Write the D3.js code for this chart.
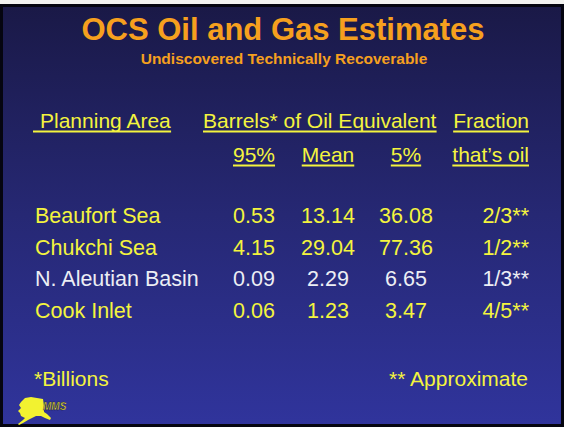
<!DOCTYPE html>
<html>
<head>
<meta charset="utf-8">
<script src="https://cdn.jsdelivr.net/npm/d3@7"></script>
<style>
  html, body { margin: 0; padding: 0; background: #f2f2f0; }
  svg { display: block; }
  text { font-family: "Liberation Sans", Arial, sans-serif; }
</style>
</head>
<body>
<div id="chart"></div>
<script>
// table contents
var areas = ["Beaufort Sea", "Chukchi Sea", "N. Aleutian Basin", "Cook Inlet"];
var p95 = [0.53, 4.15, 0.09, 0.06];
var mean = [13.14, 29.04, 2.29, 1.23];
var p5 = [36.08, 77.36, 6.65, 3.47];
var oilFraction = ["2/3", "1/2", "1/3", "4/5"];
var colHeaders = ["95%", "Mean", "5%"];

var width = 564,
    height = 427;

var yellow = "#f4f43e",
    orange = "#f6a01e",
    white = "#eceef4";

var svg = d3.select("#chart").append("svg")
    .attr("width", width)
    .attr("height", height);

var grad = svg.append("defs").append("linearGradient")
    .attr("id", "bg").attr("x1", 0).attr("y1", 0).attr("x2", 0).attr("y2", 1);
grad.append("stop").attr("offset", "0%").attr("stop-color", "#1a1947");
grad.append("stop").attr("offset", "50%").attr("stop-color", "#262874");
grad.append("stop").attr("offset", "100%").attr("stop-color", "#30349c");

// frame: light strip on top, dark edges
svg.append("rect").attr("x", 0).attr("y", 4).attr("width", width).attr("height", height - 4)
    .attr("fill", "#050510");
svg.append("rect").attr("x", 3).attr("y", 7).attr("width", width - 6).attr("height", height - 10)
    .attr("fill", "url(#bg)");

// title
svg.append("text")
    .attr("x", 283).attr("y", 40)
    .attr("text-anchor", "middle")
    .attr("font-size", 31).attr("font-weight", "bold")
    .attr("fill", orange)
    .text("OCS Oil and Gas Estimates");

svg.append("text")
    .attr("x", 284).attr("y", 64)
    .attr("text-anchor", "middle")
    .attr("font-size", 15.5).attr("font-weight", "bold")
    .attr("fill", orange)
    .text("Undiscovered Technically Recoverable");

// columns
var x = d3.scaleOrdinal()
    .domain(["area", "95%", "Mean", "5%", "frac"])
    .range([35, 254, 328, 406, 529]);

var y = d3.scalePoint()
    .domain(areas)
    .range([223, 317.5]);

function underlined(sel) {
    sel.each(function() {
        var b = this.getBBox();
        var pad = this.__pad || 0;
        d3.select(this.parentNode).append("line")
            .attr("x1", b.x - pad).attr("x2", b.x + b.width)
            .attr("y1", +this.getAttribute("y") + 3.5)
            .attr("y2", +this.getAttribute("y") + 3.5)
            .attr("stroke", yellow).attr("stroke-width", 2);
    });
}

var head = svg.append("g").attr("font-size", 21).attr("fill", yellow);

head.append("text").attr("x", 40).attr("y", 128)
    .text("Planning Area")
    .each(function() { this.__pad = 7; })
    .call(underlined);

head.append("text").attr("x", 203).attr("y", 128)
    .text("Barrels* of Oil Equivalent")
    .call(underlined);

head.append("text").attr("x", x("frac")).attr("y", 128)
    .attr("text-anchor", "end")
    .text("Fraction")
    .call(underlined);

head.selectAll(".colhead").data(colHeaders).enter().append("text")
    .attr("class", "colhead")
    .attr("x", function(d) { return x(d); })
    .attr("y", 162)
    .attr("text-anchor", "middle")
    .text(function(d) { return d; })
    .call(underlined);

head.append("text").attr("x", x("frac")).attr("y", 162)
    .attr("text-anchor", "end")
    .text("that\u2019s oil")
    .call(underlined);

// rows
var fmt = d3.format(".2f");
var rows = svg.append("g").selectAll("g.row")
    .data(areas.map(function(a, i) {
        return { area: a, p95: p95[i], mean: mean[i], p5: p5[i], frac: oilFraction[i] };
    }))
    .enter().append("g")
    .attr("class", "row")
    .attr("font-size", 21.5)
    .attr("fill", function(d) { return d.area == "N. Aleutian Basin" ? white : yellow; })
    .attr("transform", function(d) { return "translate(0," + y(d.area) + ")"; });

rows.append("text").attr("x", x("area")).text(function(d) { return d.area; });
rows.append("text").attr("x", x("95%")).attr("text-anchor", "middle")
    .text(function(d) { return fmt(d.p95); });
rows.append("text").attr("x", x("Mean")).attr("text-anchor", "middle")
    .text(function(d) { return fmt(d.mean); });
rows.append("text").attr("x", x("5%")).attr("text-anchor", "middle")
    .text(function(d) { return fmt(d.p5); });
rows.append("text").attr("x", x("frac")).attr("text-anchor", "end")
    .text(function(d) { return d.frac + "**"; });

// footnotes
svg.append("text").attr("x", 34).attr("y", 386)
    .attr("font-size", 21).attr("fill", yellow)
    .text("*Billions");
svg.append("text").attr("x", 528).attr("y", 386)
    .attr("font-size", 21).attr("fill", yellow).attr("text-anchor", "end")
    .text("** Approximate");

// little Alaska logo
var logo = svg.append("g").attr("transform", "translate(18,397)");
logo.append("path")
    .attr("d", "M7,1 L13,0 L19,1 L25,2 L26,9 L26,15 L29,17 L33,21 L32,23 L27,21 L23,19 L18,19 L14,21 L10,23 L5,26 L1,28 L0,27 L5,23 L7,21 L3,19 L2,16 L0,14 L3,11 L1,8 L3,5 Z")
    .attr("fill", "#f2f230");
logo.append("text").attr("x", 25).attr("y", 13)
    .attr("font-size", 10).attr("font-weight", "bold").attr("font-style", "italic")
    .attr("fill", "#e8e040").attr("stroke", "#1a1a30").attr("stroke-width", 0.4)
    .text("MMS");
</script>
</body>
</html>
